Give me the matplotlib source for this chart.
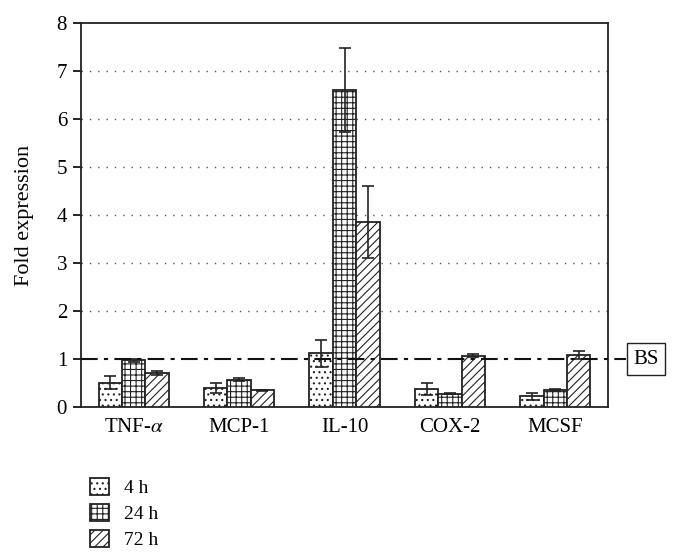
import matplotlib
matplotlib.use("Agg")
import matplotlib.pyplot as plt
import numpy as np

categories = ["TNF-$\\alpha$", "MCP-1", "IL-10", "COX-2", "MCSF"]
series = ["4 h", "24 h", "72 h"]
vals_4h = [0.51, 0.40, 1.12, 0.38, 0.22]
err_4h = [0.14, 0.10, 0.28, 0.13, 0.07]
vals_24h = [0.97, 0.57, 6.60, 0.28, 0.35]
err_24h = [0.03, 0.03, 0.88, 0.01, 0.02]
vals_72h = [0.70, 0.35, 3.85, 1.07, 1.08]
err_72h = [0.04, 0.01, 0.75, 0.03, 0.08]
baseline = 1.0

plt.rcParams['font.family'] = ['Liberation Serif', 'DejaVu Serif']
plt.rcParams['hatch.linewidth'] = 0.8
plt.rcParams['mathtext.fontset'] = 'stix'

fig = plt.figure(figsize=(6.79, 5.60), dpi=100)
ax = fig.add_axes([81/679, 1-407/560, (608-81)/679, (407-23)/560])

x = np.arange(len(categories))
w = 0.222
hatches = ['...', '+++', '////']
allv = [vals_4h, vals_24h, vals_72h]
alle = [err_4h, err_24h, err_72h]
for i, (v, e, h, lab) in enumerate(zip(allv, alle, hatches, series)):
    ax.bar(x + (i-1)*w, v, w, color='white', edgecolor='#222222', linewidth=1.3,
           hatch=h, label=lab, zorder=3)
    ax.errorbar(x + (i-1)*w, v, yerr=e, fmt='none', ecolor='#222222',
                elinewidth=1.2, capsize=4, capthick=1.2, zorder=4)

ax.set_xlim(-0.5, len(categories)-0.5)
ax.set_ylim(0, 8)
ax.set_yticks(range(0, 9))
ax.set_xticks(x)
ax.set_xticklabels(categories)
ax.tick_params(axis='x', length=0, labelsize=15, pad=8)
ax.tick_params(axis='y', direction='out', length=6, width=1.2, labelsize=15, pad=4)
for y in range(2, 8):
    ax.axhline(y, color='#555555', linestyle=(0, (1, 5)), linewidth=1.0, zorder=1)
for s in ax.spines.values():
    s.set_linewidth(1.3)
    s.set_color('#222222')

ax.plot([0, 1.035], [baseline, baseline], transform=ax.get_yaxis_transform(),
        color='#111111', linestyle=(0, (8, 3, 2, 3)), linewidth=1.5, clip_on=False, zorder=5)
ax.text(1.072, baseline, "BS", transform=ax.get_yaxis_transform(), ha='center', va='center',
        fontsize=15, bbox=dict(boxstyle='square,pad=0.3', facecolor='white', edgecolor='#222222', linewidth=1.0))

ax.set_ylabel("Fold expression", fontsize=16, labelpad=16)

fig.legend(loc='upper left', bbox_to_anchor=(72/679, 1-460/560), frameon=False,
           handlelength=1.0, handleheight=1.0, fontsize=14, labelspacing=0.35, handletextpad=0.8)

fig.savefig("out.png", dpi=100)
